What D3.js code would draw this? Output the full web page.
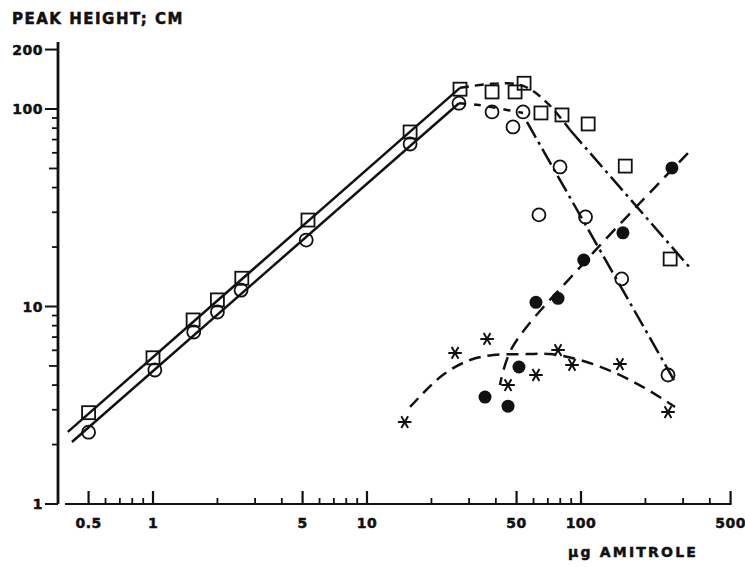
<!DOCTYPE html>
<html>
<head>
<meta charset="utf-8">
<script src="https://cdn.jsdelivr.net/npm/d3@7"></script>
<style>
  body { margin: 0; background: #fff; }
  text { font-family: "DejaVu Sans", sans-serif; font-weight: bold; fill: #111; stroke: #111; stroke-width: 0.5; }
</style>
</head>
<body>
<div id="chart"></div>
<script>
// open squares
const squareX = [0.5, 1, 1.54, 2, 2.6, 5.3, 15.9, 27.2, 38.4, 49.2, 54.2, 65, 81.5, 108, 161, 261];
const squareY = [2.9, 5.5, 8.55, 10.8, 13.9, 27.4, 76.5, 126, 122, 122, 135, 95.5, 93.3, 84, 51.4, 17.4];
// open circles
const circleX = [0.5, 1.02, 1.55, 2, 2.58, 5.2, 15.9, 26.9, 38.4, 48.1, 53.6, 63.6, 79.8, 105, 155, 255];
const circleY = [2.31, 4.77, 7.43, 9.38, 12.1, 21.7, 66.5, 107, 96.6, 81.1, 96.6, 29.1, 50.9, 28.4, 13.8, 4.5];
// filled circles
const dotX = [266, 157, 103, 78.1, 61.6, 51.3, 35.6, 45.6];
const dotY = [50.3, 23.6, 17.2, 11, 10.5, 4.94, 3.48, 3.13];
// stars
const starX = [15, 25.8, 36.4, 45.6, 61.6, 78.1, 90.8, 152, 255];
const starY = [2.6, 5.82, 6.85, 4.0, 4.5, 6.02, 5.06, 5.11, 2.92];

// hand-drawn curves, as [µg, cm]
const squareRise = [[0.40, 2.32], [27.2, 128]];
const circleRise = [[0.418, 2.06], [26.9, 107]];
const squareTop = [[27.2, 128], [37.6, 134], [49.2, 134], [57.8, 126], [71.6, 104], [88.9, 78.3]];
const squareFall = [[88.9, 78.3], [323, 15.7]];
const circleTop = [[26.9, 107], [32.7, 105], [40.5, 101], [53.6, 95.5]];
const circleFall = [[55.9, 86], [275, 4.15]];
const dotLine = [[316, 59.8], [102, 16.4], [47.6, 6.17], [41.8, 4.0]];
const starLine = [[15.9, 3.1], [22.6, 4.5], [30.3, 5.36], [38.8, 5.68], [55.9, 5.74], [71.6, 5.74],
                  [98.9, 5.36], [141, 4.66], [195, 3.91], [275, 3.1]];

// axis ticks
const xMajor = [0.5, 1, 5, 10, 50, 100, 500];
const xLabels = ["0.5", "1", "5", "10", "50", "100", "500"];
const xMinor = [0.6, 0.7, 0.8, 0.9, 2, 3, 4, 6, 7, 8, 9, 20, 30, 40, 60, 70, 80, 90, 200, 300, 400];
const yMajor = [1, 10, 100, 200];
const yLabels = ["1", "10", "100", "200"];
const yMinor = [2, 3, 4, 5, 6, 7, 8, 9, 20, 30, 40, 50, 60, 70, 80, 90];

const width = 745, height = 567;

const svg = d3.select("#chart")
  .append("svg")
  .attr("width", width)
  .attr("height", height);

const x = d3.scaleLog().domain([1, 100]).range([153, 581]);
const y = d3.scaleLog().domain([1, 100]).range([504, 109]);
const axisX = 58;
const axisY = 504;

/* y axis */
svg.append("line")
  .attr("x1", axisX).attr("x2", axisX)
  .attr("y1", 42).attr("y2", axisY)
  .attr("stroke", "#111").attr("stroke-width", 2.8);

svg.selectAll(".ymajor")
  .data(yMajor)
  .enter().append("line")
  .attr("x1", axisX - 13).attr("x2", axisX)
  .attr("y1", d => y(d)).attr("y2", d => y(d))
  .attr("stroke", "#111").attr("stroke-width", 2);

svg.selectAll(".yminor")
  .data(yMinor)
  .enter().append("line")
  .attr("x1", d => axisX - (d === 5 || d === 50 ? 9 : 6)).attr("x2", axisX)
  .attr("y1", d => y(d)).attr("y2", d => y(d))
  .attr("stroke", "#111").attr("stroke-width", 1.8);

svg.selectAll(".ylabel")
  .data(yMajor)
  .enter().append("text")
  .attr("x", axisX - 15)
  .attr("y", d => y(d) + 5)
  .attr("text-anchor", "end")
  .attr("font-size", 14)
  .attr("letter-spacing", 0.5)
  .text((d, i) => yLabels[i]);

/* x axis */
svg.append("line")
  .attr("x1", 65).attr("x2", x(500) + 1)
  .attr("y1", axisY).attr("y2", axisY)
  .attr("stroke", "#111").attr("stroke-width", 2);

svg.selectAll(".xmajor")
  .data(xMajor)
  .enter().append("line")
  .attr("x1", d => x(d)).attr("x2", d => x(d))
  .attr("y1", axisY - 13).attr("y2", axisY)
  .attr("stroke", "#111").attr("stroke-width", 2.2);

svg.selectAll(".xminor")
  .data(xMinor)
  .enter().append("line")
  .attr("x1", d => x(d)).attr("x2", d => x(d))
  .attr("y1", axisY - 6).attr("y2", axisY)
  .attr("stroke", "#111").attr("stroke-width", 1.8);

svg.selectAll(".xlabel")
  .data(xMajor)
  .enter().append("text")
  .attr("x", d => x(d))
  .attr("y", 528)
  .attr("text-anchor", "middle")
  .attr("font-size", 14)
  .attr("letter-spacing", 0.5)
  .text((d, i) => xLabels[i]);

svg.append("text")
  .attr("x", 12).attr("y", 24)
  .attr("font-size", 15)
  .attr("letter-spacing", 1.5)
  .text("PEAK HEIGHT; CM");

svg.append("text")
  .attr("x", 568).attr("y", 557)
  .attr("font-size", 14)
  .attr("letter-spacing", 2.2)
  .text("µg AMITROLE");

/* curves */
const line = d3.line().x(d => x(d[0])).y(d => y(d[1]));
const smooth = d3.line().x(d => x(d[0])).y(d => y(d[1])).curve(d3.curveCatmullRom);

function drawCurve(data, gen, dash) {
  svg.append("path")
    .attr("d", gen(data))
    .attr("fill", "none")
    .attr("stroke", "#111")
    .attr("stroke-width", 2.5)
    .attr("stroke-dasharray", dash);
}

drawCurve(squareRise, line, null);
drawCurve(circleRise, line, null);
drawCurve(squareTop, smooth, "9,6");
drawCurve(squareFall, line, "18,5,3,5");
drawCurve(circleTop, smooth, "7,8");
drawCurve(circleFall, line, "18,5,3,5");
drawCurve(dotLine, smooth, "13,8");
drawCurve(starLine, smooth, "12,7");

/* markers */
svg.selectAll(".square")
  .data(squareX)
  .enter().append("rect")
  .attr("x", d => x(d) - 6.5)
  .attr("y", (d, i) => y(squareY[i]) - 6.5)
  .attr("width", 13).attr("height", 13)
  .attr("fill", "none").attr("stroke", "#111").attr("stroke-width", 1.8);

svg.selectAll(".circle")
  .data(circleX)
  .enter().append("circle")
  .attr("cx", d => x(d))
  .attr("cy", (d, i) => y(circleY[i]))
  .attr("r", 6.5)
  .attr("fill", "none").attr("stroke", "#111").attr("stroke-width", 1.8);

svg.selectAll(".dot")
  .data(dotX)
  .enter().append("circle")
  .attr("cx", d => x(d))
  .attr("cy", (d, i) => y(dotY[i]))
  .attr("r", 6.5)
  .attr("fill", "#111");

const star = d3.symbol().type(d3.symbolAsterisk).size(130);
svg.selectAll(".star")
  .data(starX)
  .enter().append("path")
  .attr("d", star)
  .attr("transform", (d, i) => `translate(${x(d)},${y(starY[i])}) rotate(90)`)
  .attr("fill", "none").attr("stroke", "#111").attr("stroke-width", 2);
</script>
</body>
</html>
